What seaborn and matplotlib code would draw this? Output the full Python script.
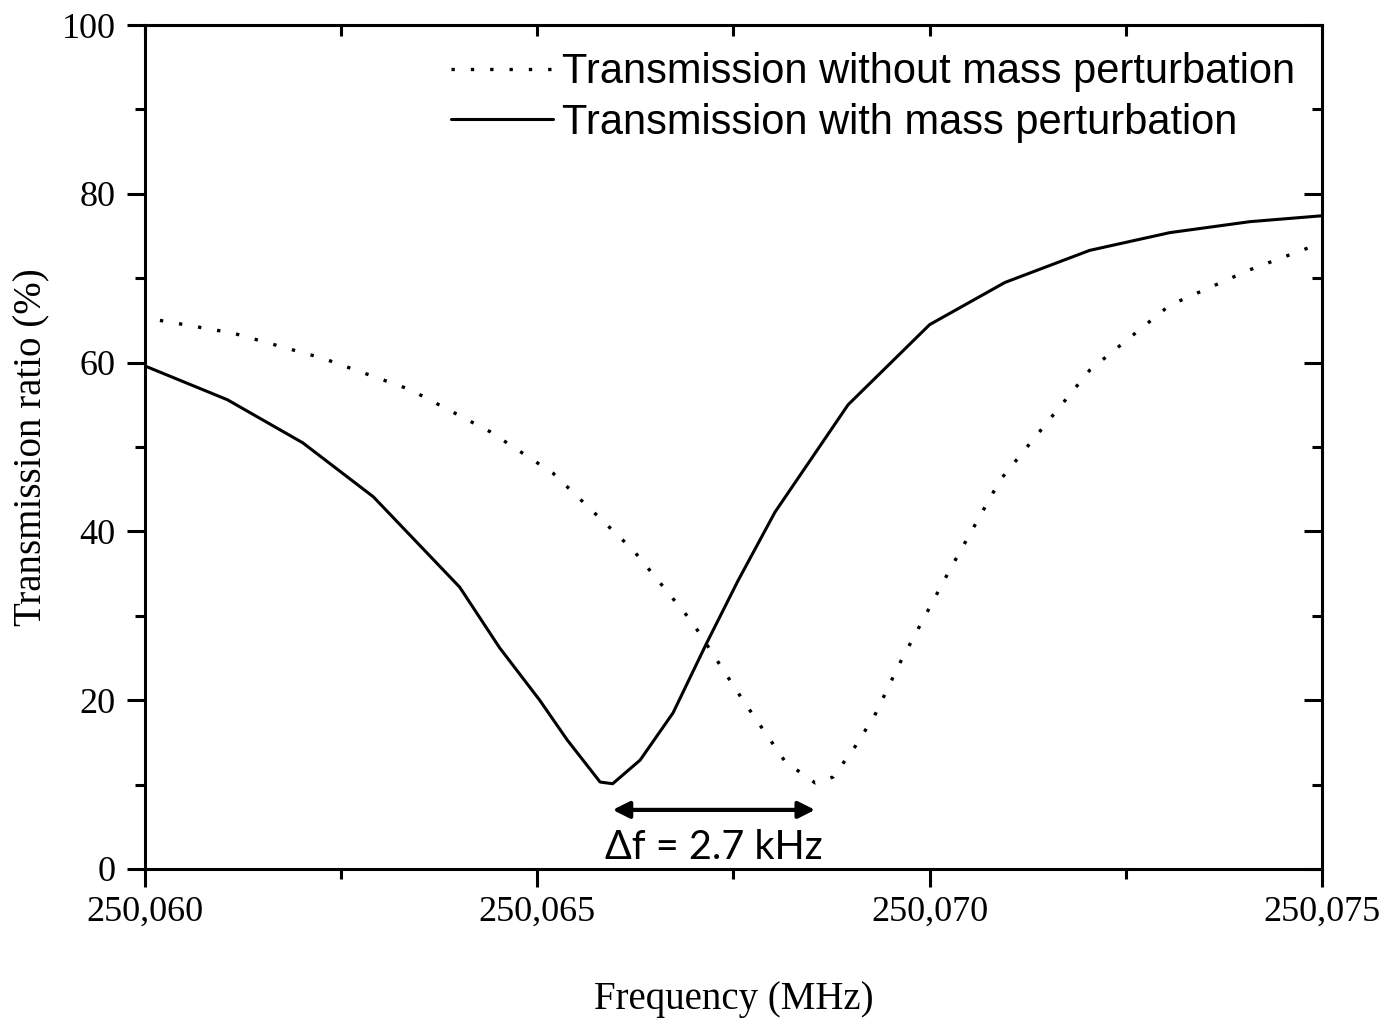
import numpy as np
import pandas as pd
import seaborn as sns
import matplotlib.pyplot as plt
from matplotlib.ticker import FuncFormatter, MultipleLocator

# frequency (MHz) and transmission (%)
freq_without = [250.06019, 250.06112, 250.06227, 250.06338, 250.06440, 250.06520,
                250.06622, 250.06697, 250.06762, 250.06816, 250.06854, 250.06877,
                250.06905, 250.06930, 250.06962, 250.07026, 250.07090, 250.07204,
                250.07306, 250.07408, 250.07500]
trans_without = [65.0, 63.5, 60.5, 56.8, 51.8, 46.9,
                 37.8, 29.3, 20.0, 12.7, 10.2, 10.9,
                 14.5, 18.2, 24.4, 35.5, 46.1, 59.1,
                 66.8, 71.0, 74.2]

freq_with = [250.06000, 250.06105, 250.06201, 250.06291, 250.06401, 250.06452,
             250.06503, 250.06538, 250.06580, 250.06596, 250.06631, 250.06673,
             250.06716, 250.06756, 250.06803, 250.06896, 250.07000, 250.07096,
             250.07204, 250.07306, 250.07408, 250.07500]
trans_with = [59.6, 55.6, 50.5, 44.1, 33.4, 26.2,
              20.0, 15.3, 10.3, 10.1, 12.9, 18.5,
              26.8, 34.2, 42.3, 55.0, 64.5, 69.5,
              73.3, 75.4, 76.7, 77.4]

label_without = 'Transmission without mass perturbation'
label_with = 'Transmission with mass perturbation'
shift_text = 'Δf = 2.7 kHz'

df_without = pd.DataFrame({'f': freq_without, 't': trans_without})
df_with = pd.DataFrame({'f': freq_with, 't': trans_with})

sns.set_style('ticks')
plt.rcParams['font.family'] = ['Liberation Serif', 'DejaVu Serif']
plt.rcParams['text.color'] = 'black'
plt.rcParams['axes.labelcolor'] = 'black'

fig = plt.figure(figsize=(13.93, 10.18), dpi=100)
ax = fig.add_axes([0.1041, 0.1464, 0.8449, 0.829])

sns.lineplot(data=df_without, x='f', y='t', ax=ax, color='black', lw=2.4,
             label=label_without)
ax.lines[-1].set_linestyle((0, (1.0, 4.8)))
sns.lineplot(data=df_with, x='f', y='t', ax=ax, color='black', lw=2.2,
             label=label_with)

ax.set_xlim(250.060, 250.075)
ax.set_ylim(0, 100)
ax.xaxis.set_major_locator(MultipleLocator(0.005))
ax.xaxis.set_minor_locator(MultipleLocator(0.0025))
ax.yaxis.set_major_locator(MultipleLocator(20))
ax.yaxis.set_minor_locator(MultipleLocator(10))
ax.xaxis.set_major_formatter(FuncFormatter(lambda v, p: f'{v:.3f}'.replace('.', ',')))

for s in ax.spines.values():
    s.set_linewidth(2.2)
    s.set_visible(True)
    s.set_color('black')
ax.tick_params(which='major', direction='out', length=13, width=2.2,
               labelsize=26, colors='black')
ax.tick_params(which='minor', direction='out', length=7, width=2.2, colors='black')
ax.tick_params(axis='x', which='major', pad=6)
ax.tick_params(axis='y', which='major', pad=8)

# inward ticks on top and right frame
top = ax.secondary_xaxis('top')
top.xaxis.set_major_locator(MultipleLocator(0.0025))
top.tick_params(direction='in', length=8, width=2.2, labeltop=False, colors='black')
top.spines['top'].set_visible(False)
right = ax.secondary_yaxis('right')
right.yaxis.set_major_locator(MultipleLocator(20))
right.yaxis.set_minor_locator(MultipleLocator(10))
right.tick_params(which='major', direction='in', length=13, width=2.2,
                  labelright=False, colors='black')
right.tick_params(which='minor', direction='in', length=7, width=2.2, colors='black')
right.spines['right'].set_visible(False)

ax.set_xlabel('Frequency (MHz)', fontsize=28, labelpad=38)
ax.set_ylabel('Transmission ratio (%)', fontsize=28, labelpad=8)

# frequency shift between the two dips
i_with = int(np.argmin(trans_with))
i_without = int(np.argmin(trans_without))
x0, x1 = freq_with[i_with], freq_without[i_without]
ax.annotate('', xy=(x0, 7.0), xytext=(x1, 7.0),
            arrowprops=dict(arrowstyle='<|-|>', color='black', lw=3,
                            mutation_scale=25, shrinkA=0, shrinkB=0))
ax.text((x0 + x1) / 2, 2.6, shift_text, ha='center', va='center',
        fontsize=28.5, color='black', family=['Lato', 'DejaVu Sans'])

leg = ax.legend(loc='upper right', frameon=False, borderaxespad=0.45,
                borderpad=0.2, handlelength=2.45, handletextpad=0.2,
                labelspacing=0.25,
                prop={'family': ['Liberation Sans', 'DejaVu Sans'], 'size': 30})
for t in leg.get_texts():
    t.set_color('black')

fig.savefig('out.png', dpi=100)
